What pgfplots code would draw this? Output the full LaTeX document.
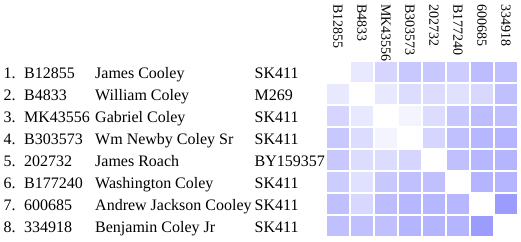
\documentclass[border=0pt]{standalone}
\usepackage{fontspec}
\setmainfont{Liberation Serif}
\usepackage{pgfplots}
\pgfplotsset{compat=1.18}
\usepackage{pgfplotstable}
\pgfdeclareplotmark{cell}{\pgfpathrectangle{\pgfqpoint{-11pt}{-10pt}}{\pgfqpoint{22pt}{20pt}}\pgfusepath{fill}}
\pgfplotstableread{
col row v
1 1 0
2 1 23
3 1 42
4 1 55
5 1 55
6 1 51
7 1 67
8 1 63
1 2 23
2 2 0
3 2 23
4 2 35
5 2 35
6 2 31
7 2 39
8 2 63
1 3 42
2 3 23
3 3 0
4 3 11
5 3 35
6 3 55
7 3 67
8 3 63
1 4 55
2 4 35
3 4 11
4 4 0
5 4 42
6 4 63
7 4 71
8 4 74
1 5 55
2 5 35
3 5 35
4 5 42
5 5 0
6 5 63
7 5 71
8 5 74
1 6 51
2 6 31
3 6 55
4 6 63
5 6 63
6 6 0
7 6 74
8 6 74
1 7 63
2 7 39
3 7 67
4 7 71
5 7 71
6 7 71
7 7 0
8 7 98
1 8 63
2 8 63
3 8 63
4 8 74
5 8 74
6 8 74
7 8 98
8 8 0
}\cells
\begin{document}
\begin{tikzpicture}
\path[use as bounding box] (0,0) rectangle (521pt,-241pt);
% column labels
\foreach \lab [count=\i] in {B12855,B4833,MK43556,B303573,202732,B177240,600685,334918}{
  \pgfmathsetmacro{\cx}{338+24*(\i-1)-4.6}
  \node[rotate=-90, anchor=base west, inner sep=0pt, font=\fontsize{14}{16}\selectfont] at (\cx pt,-4pt) {\lab};
}
% row labels
\foreach \n/\id/\name/\code [count=\j] in {
 1./B12855/James Cooley/SK411,
 2./B4833/William Coley/M269,
 3./MK43556/Gabriel Coley/SK411,
 4./B303573/Wm Newby Coley Sr/SK411,
 5./202732/James Roach/BY159357,
 6./B177240/Washington Coley/SK411,
 7./600685/Andrew Jackson Cooley/SK411,
 8./334918/Benjamin Coley Jr/SK411}{
  \pgfmathsetmacro{\by}{-(78.3+22*(\j-1))}
  \begin{scope}[every node/.style={anchor=base west, inner sep=0pt, font=\fontsize{16}{19}\selectfont}]
  \node at (3.5pt,\by pt) {\n};
  \node at (24pt,\by pt) {\id};
  \node at (95pt,\by pt) {\name};
  \node at (254.5pt,\by pt) {\code};
  \end{scope}
}
\begin{axis}[
  at={(0pt,-241pt)}, anchor=south west,
  scale only axis, width=521pt, height=241pt,
  xmin=-13.0833, xmax=8.625,
  ymin=-2.2864, ymax=8.6682,
  y dir=reverse,
  hide axis, clip=false,
  colormap={cellmap}{rgb255=(255,255,255) rgb255=(153,153,255)},
  point meta min=0, point meta max=102,
]
\addplot[scatter, only marks, mark=cell,
  scatter/use mapped color={draw=none, fill=mapped color},
  point meta=explicit] table[x=col, y=row, meta=v] {\cells};
\end{axis}
\end{tikzpicture}
\end{document}
